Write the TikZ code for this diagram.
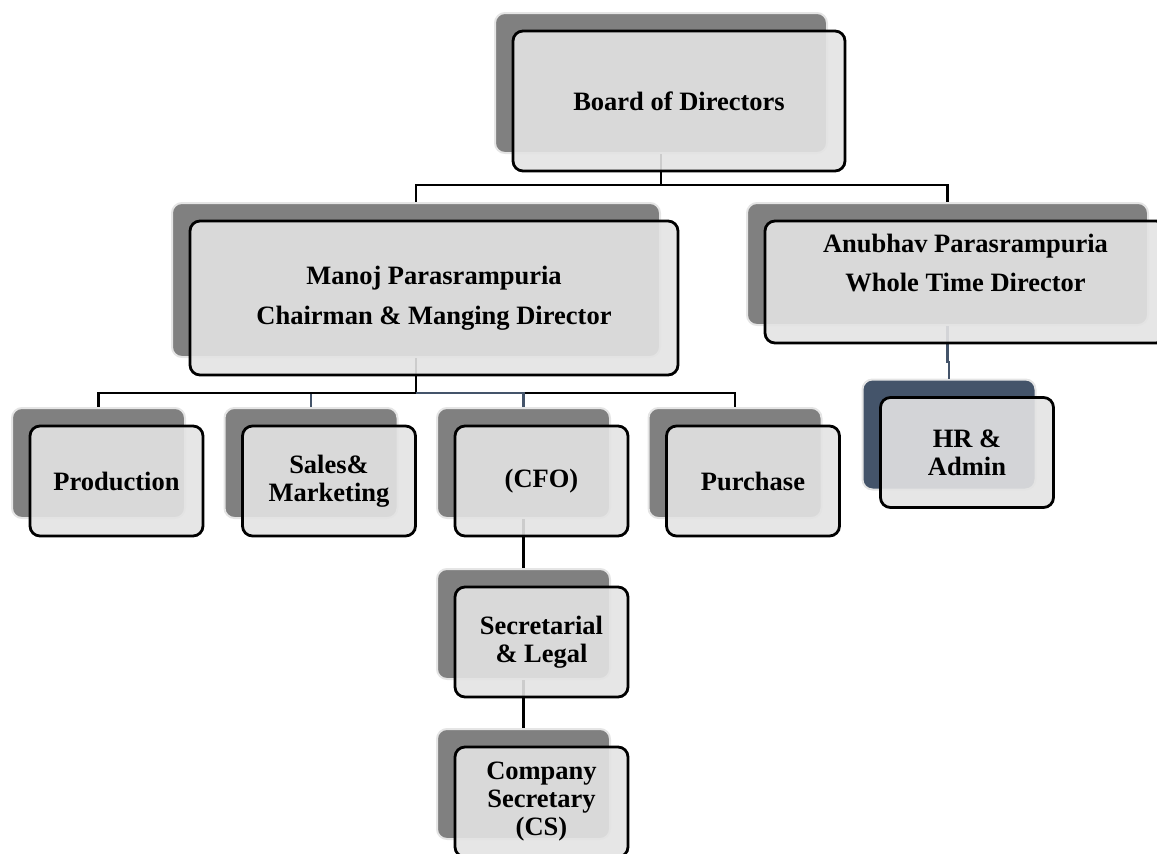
\documentclass[tikz,border=0pt]{standalone}
\usepackage{fontspec}
\setmainfont{Liberation Serif}
\definecolor{slate}{HTML}{44546A}

\begin{document}
\begin{tikzpicture}[x=1pt, y=-1pt,
backbox/.style={rectangle, rounded corners=10pt, fill=black!50, draw=black!10, line width=2pt, inner sep=0pt},
frontbox/.style={rectangle, rounded corners=10pt, draw=black, line width=2.8pt, fill=black!11, fill opacity=0.9, text opacity=1, inner sep=0pt, align=center, font=\bfseries\fontsize{26.5}{28}\selectfont},
bigtext/.style={font=\bfseries\fontsize{26.5}{40}\selectfont},
unitbox/.style={minimum width=173pt, minimum height=110pt},
link/.style={draw=black, line width=2.8pt},
bluelink/.style={draw=slate, line width=2.8pt}
]
    \useasboundingbox (0,0) rectangle (1157,854);

    %Back boxes
    \node[backbox, minimum width=332pt, minimum height=140pt]
        (board-bk) at (661,83) {};
    \node[backbox, minimum width=488pt, minimum height=154pt]
        (manoj-bk) at (416,280) {};
    \node[backbox, minimum width=401pt, minimum height=122pt]
        (anub-bk) at (947.5,264) {};
    \node[backbox, unitbox] (prod-bk)  at (98.5,463)  {};
    \node[backbox, unitbox] (sales-bk) at (311,463)   {};
    \node[backbox, unitbox] (cfo-bk)   at (523.5,463) {};
    \node[backbox, unitbox] (purch-bk) at (735,463)   {};
    \node[backbox, unitbox, fill=slate] (hr-bk) at (949,434.5) {};
    \node[backbox, unitbox] (sec-bk)   at (523.5,624) {};
    \node[backbox, unitbox] (cs-bk)    at (523.5,784) {};

    %Lines
    \coordinate (bus1) at (0,185);
    \coordinate (bus2) at (0,393);
    \coordinate (bus3) at (0,362);
    \draw[link] (board-bk.south) -- (board-bk.south |- bus1) -| (manoj-bk.north);
    \draw[link] (board-bk.south |- bus1) -| (anub-bk.north);
    \draw[link] (manoj-bk.south) -- (manoj-bk.south |- bus2) -| (purch-bk.north);
    \draw[bluelink] (manoj-bk.south |- bus2) -| (cfo-bk.north);
    \draw[bluelink] (manoj-bk.south |- bus2) -| (sales-bk.north);
    \draw[link] (manoj-bk.south |- bus2) -| (prod-bk.north);
    \draw[bluelink] (anub-bk.south) -- (anub-bk.south |- bus3) -| (hr-bk.north);
    \draw[link] (cfo-bk.south) -- (sec-bk.north);
    \draw[link] (sec-bk.south) -- (cs-bk.north);

    %Front boxes
    \node[frontbox, bigtext, minimum width=332pt, minimum height=140pt]
        (board) at ([shift={(18,18)}]board-bk) {Board of Directors};
    \node[frontbox, bigtext, minimum width=488pt, minimum height=154pt]
        (manoj) at ([shift={(18,18)}]manoj-bk) {Manoj Parasrampuria\\Chairman \& Manging Director};
    \node[frontbox, font=\bfseries\fontsize{26.5}{39}\selectfont, minimum width=401pt, minimum height=122pt]
        (anub) at ([shift={(18,18)}]anub-bk) {Anubhav Parasrampuria\\Whole Time Director\\\mbox{}};
    \node[frontbox, unitbox] (prod)  at ([shift={(18,18)}]prod-bk)  {Production};
    \node[frontbox, unitbox] (sales) at ([shift={(18,18)}]sales-bk) {Sales\&\\Marketing};
    \node[frontbox, unitbox] (cfo)   at ([shift={(18,18)}]cfo-bk)   {(CFO)};
    \node[frontbox, unitbox] (purch) at ([shift={(18,18)}]purch-bk) {Purchase};
    \node[frontbox, unitbox] (hr)    at ([shift={(18,18)}]hr-bk)    {HR \&\\Admin};
    \node[frontbox, unitbox] (sec)   at ([shift={(18,18)}]sec-bk)   {Secretarial\\\& Legal};
    \node[frontbox, unitbox] (cs)    at ([shift={(18,18)}]cs-bk)    {Company\\Secretary\\(CS)};
\end{tikzpicture}
\end{document}
